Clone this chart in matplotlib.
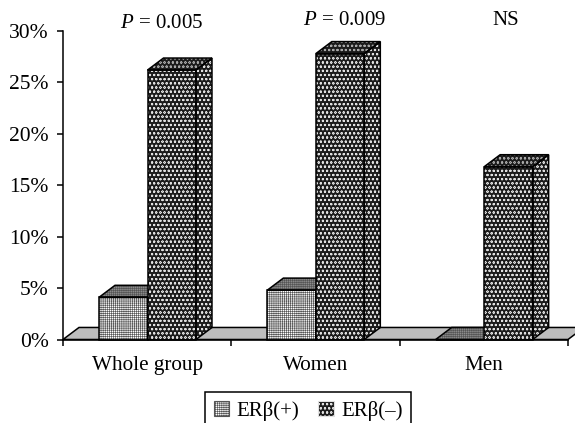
import matplotlib
matplotlib.use("Agg")
import matplotlib.pyplot as plt
from matplotlib.patches import Patch

plt.rcParams["font.family"] = ["Liberation Serif", "DejaVu Serif"]
plt.rcParams["mathtext.fontset"] = "custom"
plt.rcParams["mathtext.it"] = "Liberation Serif:italic"
plt.rcParams["mathtext.rm"] = "Liberation Serif"
plt.rcParams["hatch.linewidth"] = 0.45

groups = ["Whole group", "Women", "Men"]
er_pos = [4.1, 4.8, 0.0]
er_neg = [26.2, 27.8, 16.8]
p_labels = ["$P$ = 0.005", "$P$ = 0.009", "NS"]
yticks = [0, 5, 10, 15, 20, 25, 30]

BAR_W = 0.288
BAR_OFF = 0.214
DX = 0.095
DY = 1.17
GRID = "+" * 8
DOTS = "oooo"


def face(ax, xs, ys, fc, hc, hatch, z):
    ax.fill(xs, ys, facecolor=fc, edgecolor=hc, hatch=hatch, lw=0, zorder=z, clip_on=False)
    ax.fill(xs, ys, fill=False, edgecolor="black", lw=1.1, zorder=z + 0.1, clip_on=False, joinstyle="miter")


def box(ax, x, h, style, z):
    front, top, side = style
    face(ax, [x, x + BAR_W, x + BAR_W, x], [0, 0, h, h], *front, z)
    face(ax, [x, x + DX, x + BAR_W + DX, x + BAR_W], [h, h + DY, h + DY, h], *top, z)
    face(ax, [x + BAR_W, x + BAR_W + DX, x + BAR_W + DX, x + BAR_W],
         [0, DY, h + DY, h], *side, z)


light = (("white", "#555555", GRID), ("#8c8c8c", "#555555", GRID), ("white", "#555555", GRID))
dark = (("#1c1c1c", "#e0e0e0", DOTS), ("#1c1c1c", "#a8a8a8", DOTS), ("#1c1c1c", "#e0e0e0", DOTS))

fig = plt.figure(figsize=(5.75, 4.23), dpi=100)
ax = fig.add_axes([63 / 575, 83.5 / 423, 505 / 575, 308.5 / 423])
ax.set_xlim(0, 3)
ax.set_ylim(0, 30)

# floor of the 3d chart
ax.fill([0, DX, 3 + DX, 3], [0, DY, DY, 0], facecolor="#bdbdbd", edgecolor="black",
        lw=1.1, zorder=1, clip_on=False)

for i in range(len(groups)):
    box(ax, i + BAR_OFF, er_pos[i], light, 2 + i)
    box(ax, i + BAR_OFF + BAR_W, er_neg[i], dark, 2.5 + i)

ax.spines["top"].set_visible(False)
ax.spines["right"].set_visible(False)
ax.spines["left"].set_linewidth(1.1)
ax.spines["bottom"].set_linewidth(1.1)
ax.spines["bottom"].set_zorder(10)
ax.set_yticks(yticks)
ax.set_yticklabels([f"{t}%" for t in yticks], fontsize=15.5)
ax.set_xticks(range(len(groups) + 1))
ax.set_xticklabels([])
ax.tick_params(axis="both", length=4.2, width=1.1, pad=6)

for i, g in enumerate(groups):
    ax.text(i + 0.5, -2.55, g, ha="center", va="center", fontsize=15.2)

ax.text(0.585, 30.7, p_labels[0], ha="center", va="center", fontsize=15, clip_on=False)
ax.text(1.67, 31, p_labels[1], ha="center", va="center", fontsize=15, clip_on=False)
ax.text(2.63, 31, p_labels[2], ha="center", va="center", fontsize=15, clip_on=False)

handles = [
    Patch(facecolor="white", edgecolor="#555555", hatch=GRID, lw=0.8),
    Patch(facecolor="#1c1c1c", edgecolor="#e0e0e0", hatch=DOTS, lw=0.8),
]
leg = fig.legend(handles, ["ERβ(+)", "ERβ(–)"], ncol=2, loc="center",
                 bbox_to_anchor=(308 / 575, 12.5 / 423), fontsize=15, frameon=True, fancybox=False,
                 edgecolor="black", framealpha=1, handlelength=0.75, handleheight=0.7,
                 handletextpad=0.35, columnspacing=0.9, borderpad=0.4)
leg.get_frame().set_linewidth(1.1)

fig.savefig("out.png", dpi=100)
